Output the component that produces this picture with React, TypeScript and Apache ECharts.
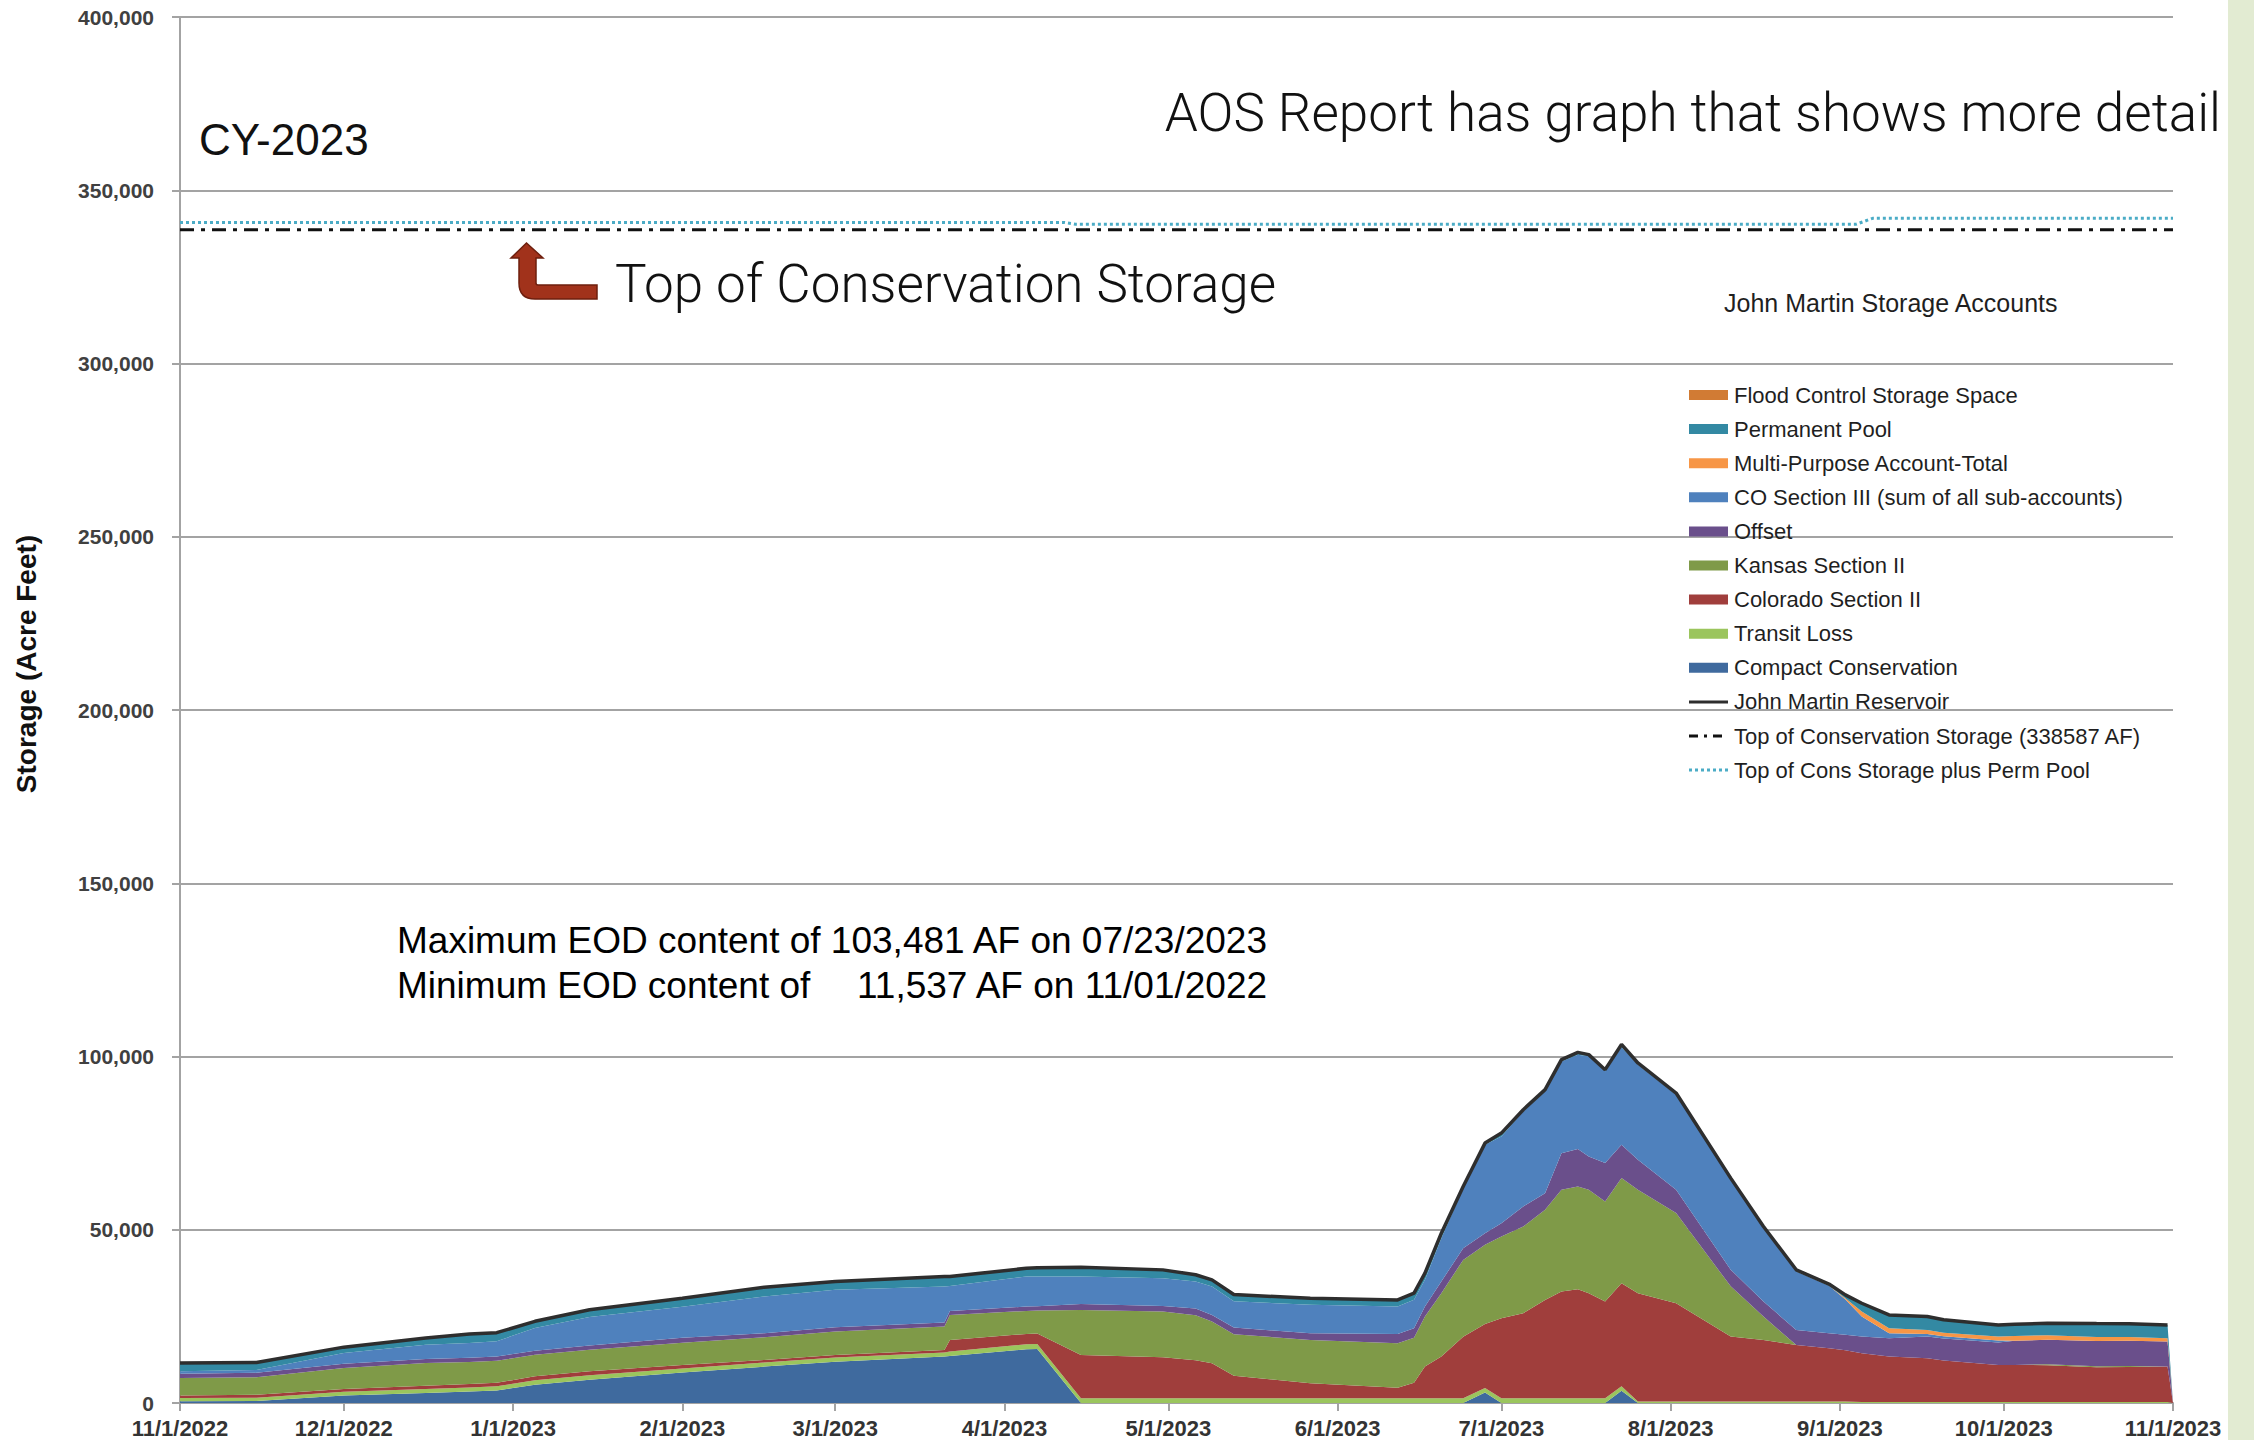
import React, { useEffect, useRef } from 'react';
import * as echarts from 'echarts';

// ---------- DATA ----------
const sampleDates = [
  '11/1/2022', '11/15/2022', '12/1/2022', '12/16/2022', '12/24/2022', '12/29/2022',
  '1/5/2023', '1/15/2023', '2/1/2023', '2/16/2023', '3/1/2023', '3/21/2023', '3/22/2023',
  '4/5/2023', '4/7/2023', '4/15/2023', '4/30/2023', '5/6/2023', '5/9/2023', '5/13/2023',
  '5/27/2023', '6/12/2023', '6/15/2023', '6/17/2023', '6/20/2023', '6/24/2023', '6/28/2023',
  '7/1/2023', '7/5/2023', '7/9/2023', '7/12/2023', '7/15/2023', '7/17/2023', '7/20/2023',
  '7/23/2023', '7/26/2023', '8/2/2023', '8/12/2023', '8/18/2023', '8/24/2023', '8/30/2023',
  '9/2/2023', '9/5/2023', '9/10/2023', '9/17/2023', '9/20/2023', '9/30/2023', '10/3/2023',
  '10/9/2023', '10/18/2023', '10/24/2023', '10/31/2023', '11/1/2023',
];

const compactConservation = [
  500, 600, 2200, 2900, 3300, 3600, 5290, 6730, 8800, 10500, 11940, 13390, 13580,
  15500, 15600, 0, 0, 0, 0, 0, 0, 0, 0, 0, 0, 0, 3000,
  0, 0, 0, 0, 0, 0, 0, 3500, 0, 0, 0, 0, 0, 0,
  0, 0, 0, 0, 0, 0, 0, 0, 0, 0, 0, 0,
];
const transitLoss = [
  950, 950, 1060, 1150, 1200, 1250, 1250, 1250, 1150, 1160, 1160, 1160, 1250,
  1440, 1440, 1350, 1350, 1350, 1350, 1350, 1350, 1350, 1350, 1350, 1350, 1350, 1350,
  1350, 1350, 1350, 1350, 1350, 1350, 1350, 1350, 400, 400, 400, 400, 400, 400,
  400, 300, 300, 300, 300, 300, 300, 300, 300, 300, 300, 0,
];
const coloradoSectionII = [
  750, 800, 770, 960, 950, 960, 1150, 1150, 1000, 770, 770, 770, 3370,
  2990, 3000, 12520, 11850, 11000, 10100, 6500, 4330, 3080, 4500, 9150, 12040, 17800, 18470,
  23110, 24550, 28400, 30800, 31490, 30330, 27930, 29720, 31280, 28400, 18760, 17800, 16360, 15390,
  14800, 14050, 13090, 12600, 12000, 10680, 10680, 10600, 10000, 10100, 10200, 0,
];
const kansasSectionII = [
  5000, 5100, 6060, 6540, 6350, 6350, 6250, 6250, 6450, 6550, 6740, 6740, 7220,
  6640, 6640, 13000, 13190, 13000, 12040, 12000, 12520, 12810, 13000, 14450, 18300, 22150, 22820,
  23590, 25040, 26000, 29370, 29660, 29850, 28890, 30330, 29850, 26000, 14500, 6740, 0, 0,
  0, 0, 0, 0, 0, 0, 0, 300, 300, 300, 0, 0,
];
const offset = [
  1250, 1250, 1250, 1150, 1250, 1250, 1150, 1250, 1400, 1160, 1250, 1160, 1160,
  1250, 1250, 1730, 1640, 1900, 1930, 1930, 1930, 2700, 2750, 2890, 3370, 3370, 3370,
  3850, 5780, 4820, 10590, 10790, 9630, 11070, 9630, 8670, 6740, 4820, 4330, 4330, 4330,
  4500, 4820, 5300, 6260, 6300, 6450, 7000, 7050, 7320, 7250, 7220, 0,
];
const coSectionIII = [
  700, 800, 3080, 4140, 4300, 4400, 6540, 8180, 9000, 10600, 10790, 10400, 7220,
  8670, 8570, 7900, 7990, 7800, 8190, 7600, 8190, 7900, 8200, 7700, 12520, 17330, 25520,
  25040, 27450, 29370, 26480, 27250, 28890, 26480, 28150, 27450, 27450, 25920, 21170, 16850, 13700,
  10200, 5780, 1440, 770, 700, 580, 0, 0, 0, 0, 0, 0,
];
const multiPurpose = [
  0, 0, 0, 0, 0, 0, 0, 0, 0, 0, 0, 0, 0,
  0, 0, 0, 0, 0, 0, 0, 0, 0, 0, 0, 0, 0, 0,
  0, 0, 0, 0, 0, 0, 0, 0, 0, 0, 0, 0, 0, 0,
  300, 1440, 1440, 1160, 1000, 1160, 1350, 1300, 1160, 1100, 960, 0,
];
const permanentPool = [
  2387, 2200, 1700, 1910, 2550, 2490, 1940, 2100, 2400, 2700, 2400, 2880, 2700,
  2400, 2500, 2700, 2400, 1950, 1930, 1920, 1920, 1920, 1900, 1930, 1440, 500, 480,
  960, 480, 490, 500, 660, 490, 480, 801, 480, 470, 500, 500, 500, 500,
  1000, 2400, 3850, 3850, 3700, 3370, 3400, 3450, 3850, 3850, 3850, 0,
];
const floodControl = [
  0, 0, 0, 0, 0, 0, 0, 0, 0, 0, 0, 0, 0,
  0, 0, 0, 0, 0, 0, 0, 0, 0, 0, 0, 0, 0, 0,
  0, 0, 0, 0, 0, 0, 0, 0, 0, 0, 0, 0, 0, 0,
  0, 0, 0, 0, 0, 0, 0, 0, 0, 0, 0, 0,
];
const johnMartinReservoir = [
  11537, 11700, 16120, 18750, 19900, 20300, 23570, 26910, 30200, 33440, 35050, 36500, 36500,
  38890, 39000, 39200, 38420, 37000, 35540, 31300, 30240, 29760, 31700, 37470, 49020, 62500, 75010,
  77900, 84650, 90430, 99090, 101200, 100540, 96200, 103481, 98130, 89460, 64900, 50940, 38440, 34320,
  31200, 28790, 25420, 24940, 24000, 22540, 22730, 23000, 22930, 22900, 22530, null,
];

const topConsDates = ['11/1/2022', '11/1/2023'];
const topConservation = [338587, 338587];

const permTopDates = ['11/1/2022', '4/12/2023', '4/14/2023', '9/4/2023', '9/7/2023', '11/1/2023'];
const permTopValues = [340700, 340700, 340200, 340200, 341900, 341900];

const Y_MIN = 0;
const Y_MAX = 400000;
const Y_INTERVAL = 50000;

// ---------- STYLE ----------
const C = {
  flood: '#d17b34',
  perm: '#3389a3',
  multi: '#f79646',
  co3: '#4f81bd',
  offset: '#6a4f8b',
  kansas: '#7f9a48',
  colorado: '#a03e3c',
  transit: '#9bc55d',
  compact: '#3f6a9e',
  jmr: '#2e2e2e',
  topCons: '#111111',
  permTop: '#4bacc6',
  grid: '#a3a3a3',
};
const FONT = '"Liberation Sans", Arial, Helvetica, sans-serif';
const THIN = 'Roboto, "Open Sans", sans-serif';
const ARROW_PATH = 'M15.5 0 L32 15 L25 15 L25 40 Q25 42 27 42 L86 42 L86 56 L24 56 Q8 56 8 40 L8 15 L0 15 Z';

const START = Date.UTC(2022, 10, 1);
function dayIndex(s: string): number {
  const [m, d, y] = s.split('/').map(Number);
  return Math.round((Date.UTC(y, m - 1, d) - START) / 86400000);
}
const allDays: string[] = [];
for (let i = 0; i <= 365; i++) {
  const dt = new Date(START + i * 86400000);
  allDays.push(`${dt.getUTCMonth() + 1}/${dt.getUTCDate()}/${dt.getUTCFullYear()}`);
}
const pairs = (dates: string[], vals: (number | null)[]) =>
  vals.map((v, i) => [dayIndex(dates[i]), v]);

const isMonthStart = (_i: number, v: string) => String(v).split('/')[1] === '1';

let arrowRegistered = false;

export default function App() {
  const ref = useRef<HTMLDivElement>(null);
  useEffect(() => {
    if (!ref.current) return;
    if (!arrowRegistered) {
      echarts.graphic.registerShape('consArrow', echarts.graphic.extendPath(ARROW_PATH, {}) as any);
      arrowRegistered = true;
    }
    const chart = echarts.init(ref.current, undefined, { renderer: 'svg' });

    const areaDefs = [
      { name: 'Compact Conservation', data: compactConservation, color: C.compact },
      { name: 'Transit Loss', data: transitLoss, color: C.transit },
      { name: 'Colorado Section II', data: coloradoSectionII, color: C.colorado },
      { name: 'Kansas Section II', data: kansasSectionII, color: C.kansas },
      { name: 'Offset', data: offset, color: C.offset },
      { name: 'CO Section III (sum of all sub-accounts)', data: coSectionIII, color: C.co3 },
      { name: 'Multi-Purpose Account-Total', data: multiPurpose, color: C.multi },
      { name: 'Permanent Pool', data: permanentPool, color: C.perm },
      { name: 'Flood Control Storage Space', data: floodControl, color: C.flood },
    ];

    const areaSeries = areaDefs.map((d) => ({
      name: d.name,
      type: 'line',
      stack: 'storage',
      symbol: 'none',
      data: pairs(sampleDates, d.data),
      color: d.color,
      lineStyle: { width: 0 },
      areaStyle: { color: d.color, opacity: 1 },
      emphasis: { disabled: true },
      silent: true,
      z: 2,
    }));

    const legendItems = [
      { name: 'Flood Control Storage Space', kind: 'rect', color: C.flood },
      { name: 'Permanent Pool', kind: 'rect', color: C.perm },
      { name: 'Multi-Purpose Account-Total', kind: 'rect', color: C.multi },
      { name: 'CO Section III (sum of all sub-accounts)', kind: 'rect', color: C.co3 },
      { name: 'Offset', kind: 'rect', color: C.offset },
      { name: 'Kansas Section II', kind: 'rect', color: C.kansas },
      { name: 'Colorado Section II', kind: 'rect', color: C.colorado },
      { name: 'Transit Loss', kind: 'rect', color: C.transit },
      { name: 'Compact Conservation', kind: 'rect', color: C.compact },
      { name: 'John Martin Reservoir', kind: 'line', color: C.jmr, width: 3, dash: null },
      { name: 'Top of Conservation Storage (338587 AF)', kind: 'line', color: C.topCons, width: 3, dash: [9, 6, 3, 6] },
      { name: 'Top of Cons Storage plus Perm Pool', kind: 'line', color: C.permTop, width: 3, dash: [3, 3] },
    ];
    const LX = 1689, LY = 395, LSTEP = 34.1;
    const legendGraphics: any[] = [];
    legendItems.forEach((it: any, i) => {
      const y = LY + i * LSTEP;
      if (it.kind === 'rect') {
        legendGraphics.push({ type: 'rect', shape: { x: LX, y: y - 5, width: 39, height: 10 }, style: { fill: it.color }, z: 100 });
      } else {
        legendGraphics.push({
          type: 'line', shape: { x1: LX, y1: y, x2: LX + 39, y2: y },
          style: { stroke: it.color, lineWidth: it.width, lineDash: it.dash || undefined }, z: 100,
        });
      }
      legendGraphics.push({
        type: 'text', x: LX + 45, y,
        style: { text: it.name, font: `22px ${FONT}`, fill: '#1f1f1f', align: 'left', verticalAlign: 'middle', textAlign: 'left', textVerticalAlign: 'middle' },
        z: 100,
      });
    });

    const text = (t: string, x: number, y: number, font: string, align = 'left', fill = '#111', rotation = 0) => ({
      type: 'text', x, y, rotation,
      style: { text: t, font, fill, align, verticalAlign: 'middle', textAlign: align, textVerticalAlign: 'middle' },
      z: 100,
    });

    const option: any = {
      animation: false,
      backgroundColor: '#ffffff',
      grid: { left: 180, right: 81, top: 17, bottom: 37, containLabel: false },
      xAxis: {
        type: 'category',
        data: allDays,
        boundaryGap: false,
        axisLine: { show: true, lineStyle: { color: C.grid, width: 2 } },
        axisTick: { show: true, interval: isMonthStart, length: 8, lineStyle: { color: C.grid, width: 2 } },
        axisLabel: {
          interval: isMonthStart, fontSize: 22, fontWeight: 'bold', color: '#333333',
          fontFamily: FONT, margin: 14,
        },
        splitLine: { show: false },
      },
      yAxis: {
        type: 'value',
        min: Y_MIN, max: Y_MAX, interval: Y_INTERVAL,
        axisLine: { show: true, lineStyle: { color: C.grid, width: 2 } },
        axisTick: { show: true, length: 8, lineStyle: { color: C.grid, width: 2 } },
        axisLabel: {
          fontSize: 21, fontWeight: 'bold', color: '#404040', fontFamily: FONT, margin: 26,
          formatter: (v: number) => v.toLocaleString('en-US'),
        },
        splitLine: { show: true, lineStyle: { color: C.grid, width: 2 } },
      },
      series: [
        ...areaSeries,
        {
          name: 'John Martin Reservoir', type: 'line', symbol: 'none',
          data: pairs(sampleDates, johnMartinReservoir),
          lineStyle: { color: C.jmr, width: 3.5 }, color: C.jmr, z: 5, silent: true,
        },
        {
          name: 'Top of Conservation Storage (338587 AF)', type: 'line', symbol: 'none',
          data: pairs(topConsDates, topConservation),
          lineStyle: { color: C.topCons, width: 3, type: [14, 7, 4, 7] }, color: C.topCons, z: 5, silent: true,
        },
        {
          name: 'Top of Cons Storage plus Perm Pool', type: 'line', symbol: 'none',
          data: pairs(permTopDates, permTopValues),
          lineStyle: { color: C.permTop, width: 3, type: [3, 3] }, color: C.permTop, z: 5, silent: true,
        },
      ],
      graphic: [
        { type: 'rect', shape: { x: 2228, y: 0, width: 26, height: 1440 }, style: { fill: '#e2ebd2' }, z: 50 },
        text('Storage (Acre Feet)', 26, 664, `bold 28px ${FONT}`, 'center', '#111', Math.PI / 2),
        text('CY-2023', 199, 139, `44px ${FONT}`),
        text('AOS Report has graph that shows more detail', 2221, 113, `300 53px ${THIN}`, 'right'),
        text('Top of Conservation Storage', 615, 284, `300 53px ${THIN}`),
        {
          type: 'consArrow', x: 511, y: 243,
          style: { fill: '#a1321b', stroke: '#6e1f0e', lineWidth: 1.5 }, z: 100,
        },
        text('John Martin Storage Accounts', 1724, 303, `25px ${FONT}`, 'left', '#1f1f1f'),
        text('Maximum EOD content of 103,481 AF on 07/23/2023', 397, 940, `37px ${FONT}`, 'left', '#000'),
        text('Minimum EOD content of', 397, 985, `37px ${FONT}`, 'left', '#000'),
        text('11,537 AF on 11/01/2022', 857, 985, `37px ${FONT}`, 'left', '#000'),
        ...legendGraphics,
      ],
    };
    chart.setOption(option);
    return () => chart.dispose();
  }, []);

  return (
    <div
      ref={ref}
      style={{ position: 'absolute', left: 0, top: 0, width: 2254, height: 1440, background: '#fff' }}
    />
  );
}
